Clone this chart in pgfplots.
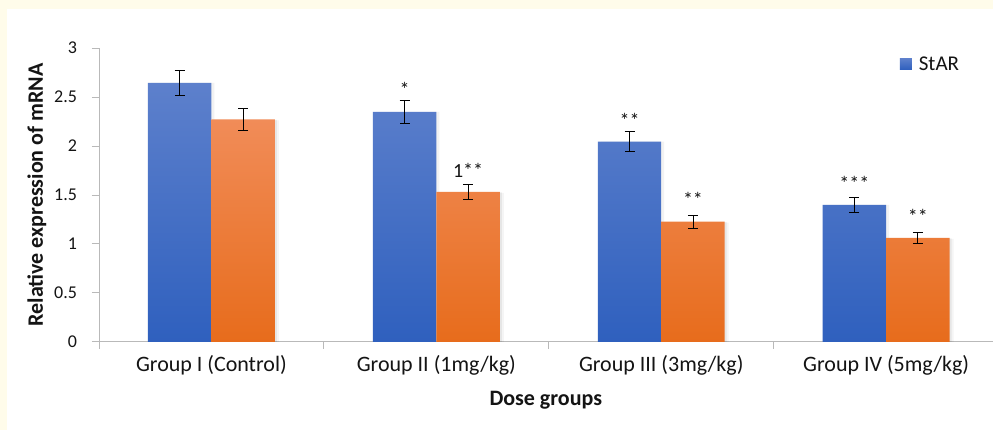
\documentclass[border=0pt]{standalone}
\usepackage{pgfplots}
\pgfplotsset{compat=1.18}
\usepackage{pgfplotstable}
\usepackage{fontspec}
\setmainfont{Carlito}
\definecolor{cream}{RGB}{255,252,234}
\definecolor{bluetop}{RGB}{93,128,204}
\definecolor{bluebot}{RGB}{47,96,190}
\definecolor{orangetop}{RGB}{241,140,88}
\definecolor{orangebot}{RGB}{231,108,28}
\definecolor{axgray}{RGB}{185,185,185}
\definecolor{txt}{RGB}{20,20,20}

\pgfplotstableread{
x blue blueerr orange orangeerr
0 2.643 0.13 2.27 0.115
1 2.347 0.12 1.53 0.08
2 2.044 0.10 1.228 0.065
3 1.398 0.072 1.061 0.055
}\data

\begin{document}
\begin{tikzpicture}[x=1pt,y=1pt]
\fill[cream] (0,0) rectangle (993,430);
\fill[white] (7,0) rectangle (993,421);
\begin{axis}[
  at={(99pt,88pt)}, anchor=south west,
  scale only axis, width=894pt, height=294pt,
  xmin=-0.5, xmax=3.4733, ymin=0, ymax=3,
  axis x line*=bottom, axis y line*=left,
  axis line style={axgray, line width=0.8pt},
  ytick={0,0.5,1,1.5,2,2.5,3},
  yticklabels={0,0.5,1,1.5,2,2.5,3},
  xtick={0,1,2,3},
  xticklabels={Group I (Control), Group II (1mg/kg), Group III (3mg/kg), Group IV (5mg/kg)},
  minor xtick={-0.5,0.5,1.5,2.5},
  tick align=outside,
  major tick length=7pt, minor tick length=7pt,
  major x tick style={draw=none},
  minor x tick style={axgray, line width=0.8pt},
  y tick style={axgray, line width=0.8pt},
  yticklabel style={font=\fontsize{18}{21}\selectfont, text=txt, xshift=-11.5pt},
  xticklabel style={font=\fontsize{22}{26}\selectfont, text=txt, anchor=base, yshift=-23pt},
  xlabel={Dose groups}, ylabel={Relative expression of mRNA},
  label style={font=\bfseries\fontsize{22}{26}\selectfont, text=txt},
  xlabel style={at={(axis description cs:0.5,-0.197)}, anchor=center},
  ylabel style={at={(axis description cs:-0.0694,0.5)}, anchor=center},
  legend style={draw=none, fill=none, at={(0.896,0.9456)}, anchor=west, inner sep=0pt,
    font=\fontsize{21}{25}\selectfont, text=txt,
    /tikz/every odd column/.append style={column sep=5pt}},
  legend cell align=left,
  clip=false,
  errstyle/.style={draw=none, mark=none, forget plot,
    error bars/.cd, y dir=both, y explicit, error mark=-,
    error bar style={draw=black, line width=0.8pt},
    error mark options={draw=black, mark size=5pt, line width=0.8pt, rotate=90}},
  shadow/.style={ybar, bar width=63.5pt, draw=none, fill=black, forget plot},
]
% soft shadows
\addplot[shadow, bar shift=35.75pt, opacity=0.04] table[x=x,y expr=\thisrow{orange}-0.01]{\data};
\addplot[shadow, bar shift=33.75pt, opacity=0.06] table[x=x,y expr=\thisrow{orange}-0.005]{\data};
\addplot[shadow, bar shift=-28.75pt, opacity=0.05] table[x=x,y=blue]{\data};
\addplot[ybar, bar width=63.5pt, bar shift=-31.75pt, draw=none, top color=bluetop, bottom color=bluebot,
  legend image code/.code={\fill[bluetop!60!bluebot] (0pt,-5.5pt) rectangle (12pt,5.5pt);}]
  table[x=x,y=blue]{\data};
\addlegendentry{StAR}
\addplot[ybar, bar width=63.5pt, bar shift=31.75pt, draw=none, top color=orangetop, bottom color=orangebot, forget plot]
  table[x=x,y=orange]{\data};
\addplot[errstyle] table[x expr=\thisrow{x}-0.14111, y=blue, y error=blueerr]{\data};
\addplot[errstyle] table[x expr=\thisrow{x}+0.14111, y=orange, y error=orangeerr]{\data};
\begin{scope}[every node/.style={anchor=base, font=\fontsize{20}{24}\selectfont, text=txt, inner sep=0pt}]
\node at (axis cs:0.8589,2.50) {*};
\node at (axis cs:1.1411,1.677) {1**};
\node at (axis cs:1.8589,2.193) {**};
\node at (axis cs:2.1411,1.383) {**};
\node at (axis cs:2.8589,1.547) {***};
\node at (axis cs:3.1411,1.207) {**};
\end{scope}
\end{axis}
\end{tikzpicture}
\end{document}
